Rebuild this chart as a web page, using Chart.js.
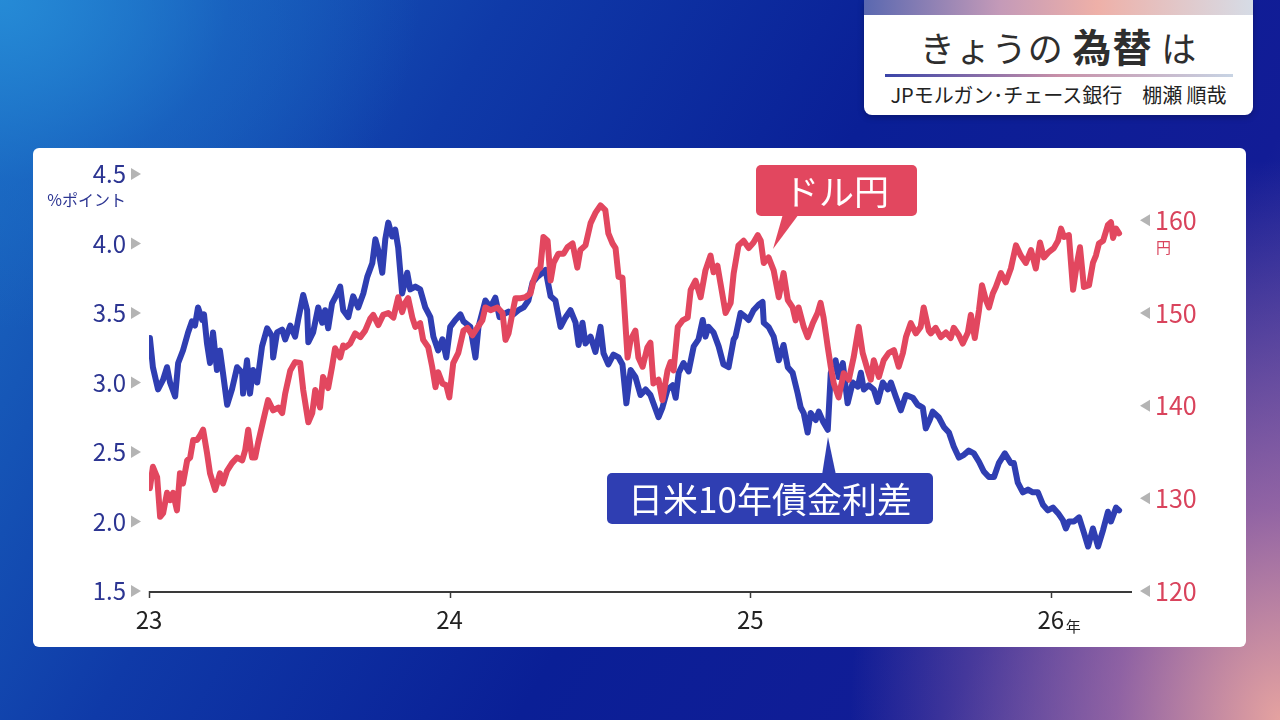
<!DOCTYPE html>
<html lang="ja">
<head>
<meta charset="utf-8">
<script src="https://cdn.jsdelivr.net/npm/chart.js@4.4.1/dist/chart.umd.min.js"></script>
<style>
  html,body{margin:0;padding:0;}
  body{width:1280px;height:720px;overflow:hidden;position:relative;
    font-family:"Noto Sans CJK JP","Noto Sans",sans-serif;
    background:
      radial-gradient(ellipse 430px 560px at 100% 100%, rgba(238,168,160,0.95) 0%, rgba(200,128,168,0.65) 38%, rgba(110,90,170,0) 100%),
      radial-gradient(ellipse 420px 330px at 0% 0%, rgba(38,140,215,0.95) 0%, rgba(28,110,200,0.45) 55%, rgba(20,60,170,0) 100%),
      linear-gradient(120deg, #1c70c4 0%, #0f3aa8 30%, #0a1f96 55%, #121c96 80%, #3a3aa0 100%);
  }
  #panel{position:absolute;left:33px;top:148px;width:1213px;height:499px;background:#fff;border-radius:6px;}
  #title{position:absolute;left:864px;top:0;width:389px;height:115px;background:#fff;border-radius:0 0 8px 8px;overflow:hidden;box-shadow:0 2px 6px rgba(0,0,0,0.25);}
  #title .bar{position:absolute;left:0;top:0;width:100%;height:15px;background:linear-gradient(90deg,#5a68b0 0%,#c49ab8 35%,#eeb0a8 60%,#d6dce6 100%);}
  #title .main{position:absolute;left:0;top:22px;width:100%;text-align:center;color:#2e2e2e;font-size:35px;line-height:46px;letter-spacing:1px;}
  #title .main b{font-size:39px;font-weight:700;}
  #title .rule{position:absolute;left:21px;top:74px;width:348px;height:3px;background:linear-gradient(90deg,#3a44a8 0%,#c890a8 50%,#c8d4e4 100%);}
  #title .sub{position:absolute;left:0;top:81px;width:100%;text-align:center;color:#222;font-size:20px;line-height:28px;}
  canvas{position:absolute;left:0;top:0;}
  .tag{position:absolute;color:#fff;font-size:35px;line-height:50px;text-align:center;border-radius:5px;}
  #tagYen{left:756px;top:165px;width:161px;height:51px;background:#e2475f;}
  #tagSpread{left:607px;top:473px;width:326px;height:51px;background:#2f3eb2;}
</style>
</head>
<body>
<div id="panel"></div>
<div id="title">
  <div class="bar"></div>
  <div class="main">きょうの <b>為替</b> は</div>
  <div class="rule"></div>
  <div class="sub">JPモルガン･チェース銀行　棚瀬 順哉</div>
</div>
<canvas id="c" width="1280" height="720"></canvas>
<svg style="position:absolute;left:0;top:0" width="1280" height="720">
  <polygon points="783,214 799,214 773,249" fill="#e2475f"/>
  <polygon points="822,475 836,475 828,437" fill="#2f3eb2"/>
</svg>
<div class="tag" id="tagYen">ドル円</div>
<div class="tag" id="tagSpread">日米10年債金利差</div>

<script>
// ---- data (x = year, 2-digit decimal) ----
const yearTicks = [23, 24, 25, 26];
const spreadTicks = [1.5, 2.0, 2.5, 3.0, 3.5, 4.0, 4.5];
const yenTicks = [120, 130, 140, 150, 160];

const spreadX = [23.003,23.013,23.030,23.047,23.060,23.070,23.087,23.097,23.113,23.130,23.143,23.153,23.163,23.177,23.183,23.193,23.203,23.213,23.226,23.236,23.246,23.260,23.276,23.293,23.310,23.313,23.326,23.336,23.346,23.360,23.376,23.393,23.410,23.413,23.426,23.443,23.453,23.470,23.486,23.496,23.513,23.526,23.530,23.546,23.563,23.576,23.586,23.596,23.609,23.626,23.636,23.646,23.663,23.679,23.696,23.713,23.726,23.743,23.753,23.763,23.776,23.786,23.796,23.809,23.819,23.829,23.842,23.859,23.869,23.886,23.902,23.919,23.936,23.946,23.962,23.976,23.989,24.002,24.019,24.036,24.046,24.069,24.086,24.096,24.119,24.136,24.152,24.166,24.179,24.196,24.212,24.229,24.246,24.262,24.276,24.292,24.309,24.319,24.336,24.352,24.369,24.386,24.402,24.419,24.429,24.442,24.452,24.469,24.485,24.502,24.512,24.528,24.545,24.562,24.575,24.588,24.602,24.618,24.635,24.652,24.668,24.678,24.695,24.708,24.725,24.742,24.752,24.762,24.778,24.795,24.812,24.828,24.842,24.851,24.861,24.878,24.895,24.911,24.928,24.945,24.951,24.968,24.985,24.995,25.011,25.028,25.041,25.045,25.061,25.078,25.095,25.111,25.125,25.141,25.158,25.168,25.178,25.191,25.201,25.218,25.228,25.242,25.258,25.268,25.284,25.294,25.308,25.324,25.341,25.358,25.368,25.378,25.394,25.411,25.424,25.441,25.458,25.468,25.484,25.501,25.518,25.541,25.557,25.574,25.584,25.597,25.607,25.627,25.644,25.661,25.677,25.694,25.711,25.727,25.744,25.761,25.777,25.794,25.811,25.827,25.847,25.867,25.877,25.890,25.907,25.924,25.940,25.957,25.974,25.990,26.007,26.024,26.040,26.050,26.060,26.077,26.094,26.110,26.124,26.140,26.157,26.174,26.190,26.200,26.217,26.227];
const spreadY = [3.32,3.11,2.95,3.02,3.11,3.00,2.90,3.14,3.23,3.36,3.44,3.41,3.54,3.45,3.49,3.28,3.14,3.36,3.09,3.23,3.07,2.84,2.95,3.11,3.07,2.92,3.16,2.92,3.09,3.00,3.26,3.39,3.33,3.18,3.36,3.38,3.31,3.41,3.33,3.45,3.63,3.52,3.29,3.36,3.54,3.43,3.52,3.39,3.57,3.64,3.69,3.52,3.47,3.62,3.54,3.64,3.76,3.86,4.03,3.95,3.79,4.03,4.15,4.05,4.10,3.97,3.64,3.79,3.67,3.69,3.67,3.54,3.47,3.33,3.23,3.31,3.18,3.40,3.45,3.49,3.44,3.40,3.18,3.40,3.59,3.54,3.61,3.47,3.49,3.51,3.49,3.52,3.54,3.59,3.72,3.76,3.79,3.81,3.62,3.59,3.40,3.47,3.52,3.43,3.27,3.43,3.28,3.33,3.22,3.40,3.21,3.13,3.20,3.18,3.13,2.85,3.09,3.04,2.91,2.95,2.91,2.85,2.75,2.82,2.95,2.98,2.89,3.07,3.14,3.08,3.26,3.31,3.45,3.33,3.40,3.36,3.26,3.13,3.11,3.31,3.33,3.50,3.47,3.45,3.52,3.56,3.58,3.43,3.40,3.33,3.16,3.27,3.11,3.07,2.92,2.82,2.78,2.64,2.78,2.73,2.79,2.72,2.66,3.07,3.16,3.04,3.14,2.85,3.00,2.97,3.07,2.95,2.98,2.95,2.86,3.00,2.95,3.00,2.90,2.80,2.91,2.89,2.84,2.82,2.67,2.73,2.79,2.75,2.68,2.64,2.54,2.46,2.48,2.51,2.49,2.43,2.36,2.32,2.32,2.42,2.49,2.42,2.42,2.28,2.21,2.23,2.21,2.21,2.12,2.08,2.10,2.06,2.01,1.95,2.00,2.00,2.03,1.92,1.82,1.95,1.82,1.94,2.07,2.00,2.10,2.08];

const yenX = [23.003,23.013,23.027,23.037,23.047,23.060,23.070,23.080,23.093,23.103,23.113,23.127,23.137,23.147,23.160,23.170,23.180,23.193,23.203,23.220,23.236,23.246,23.260,23.276,23.293,23.310,23.320,23.330,23.343,23.353,23.363,23.380,23.396,23.413,23.430,23.443,23.453,23.470,23.486,23.503,23.513,23.530,23.543,23.553,23.569,23.579,23.596,23.609,23.619,23.636,23.646,23.653,23.669,23.686,23.703,23.719,23.736,23.746,23.763,23.779,23.796,23.813,23.829,23.842,23.852,23.862,23.876,23.886,23.902,23.912,23.929,23.942,23.953,23.962,23.976,23.989,23.999,24.012,24.029,24.046,24.059,24.076,24.092,24.109,24.119,24.136,24.159,24.176,24.186,24.196,24.209,24.219,24.236,24.252,24.269,24.279,24.292,24.302,24.312,24.326,24.336,24.346,24.362,24.379,24.392,24.409,24.425,24.435,24.452,24.469,24.485,24.502,24.518,24.528,24.542,24.552,24.562,24.575,24.592,24.602,24.618,24.628,24.642,24.658,24.668,24.678,24.695,24.708,24.725,24.735,24.745,24.759,24.775,24.792,24.802,24.818,24.835,24.851,24.868,24.878,24.891,24.901,24.918,24.935,24.945,24.961,24.978,24.995,25.011,25.025,25.035,25.045,25.061,25.078,25.095,25.111,25.125,25.141,25.151,25.161,25.178,25.191,25.208,25.224,25.234,25.244,25.258,25.268,25.278,25.294,25.311,25.328,25.344,25.361,25.374,25.391,25.401,25.411,25.428,25.444,25.461,25.478,25.494,25.508,25.518,25.534,25.551,25.567,25.577,25.594,25.601,25.617,25.634,25.651,25.667,25.677,25.694,25.707,25.724,25.734,25.747,25.761,25.771,25.784,25.794,25.807,25.817,25.834,25.850,25.867,25.884,25.900,25.917,25.934,25.950,25.964,25.977,25.994,26.010,26.024,26.034,26.044,26.060,26.074,26.087,26.097,26.110,26.127,26.140,26.150,26.160,26.174,26.190,26.200,26.207,26.217,26.227];
const yenY = [131.1,133.4,132.3,128.0,128.4,130.6,129.8,130.6,128.7,132.7,131.6,134.1,134.4,136.3,136.3,136.8,137.4,134.9,132.7,130.9,132.7,131.6,133.0,133.8,134.4,134.1,135.2,137.4,134.4,134.4,136.0,138.4,140.6,139.5,139.8,139.2,141.3,143.8,144.7,144.6,141.7,138.2,139.2,141.7,139.8,143.1,141.9,144.2,146.2,145.2,146.5,146.3,146.7,147.8,147.4,148.1,149.4,149.8,148.7,149.8,150.0,149.5,151.7,150.1,151.1,151.6,149.5,148.5,148.9,147.1,146.3,144.2,142.0,143.6,142.4,142.2,140.9,144.6,145.7,148.1,148.4,147.6,148.4,149.2,150.6,150.3,150.6,150.0,147.1,147.8,150.0,151.6,151.6,151.7,152.1,153.5,154.6,154.9,158.2,157.8,153.5,155.4,156.4,156.4,157.1,157.5,154.9,156.8,157.3,159.7,160.8,161.6,161.1,158.6,157.5,157.0,153.9,153.8,145.2,147.1,148.1,145.2,144.2,146.3,146.8,142.4,142.8,140.6,143.8,144.7,143.8,148.5,149.2,149.5,152.5,153.5,151.7,154.6,156.2,154.4,155.1,153.2,150.0,151.1,154.3,157.3,157.8,157.0,157.6,158.4,157.8,155.4,156.0,154.6,151.7,154.3,151.4,150.6,149.2,150.6,148.5,147.4,148.9,150.0,151.1,149.5,146.3,144.2,142.4,140.9,143.5,142.8,145.2,148.5,145.7,143.8,142.8,144.9,143.1,144.9,145.7,146.0,144.2,145.7,147.4,148.9,147.8,148.5,150.6,148.1,147.8,148.4,147.4,147.9,147.3,148.4,147.6,146.7,147.9,149.8,147.3,150.3,153.0,151.4,150.6,152.1,152.8,154.3,153.3,154.8,157.3,156.2,155.4,156.8,154.8,157.6,156.0,156.6,157.0,157.8,159.1,158.2,158.4,152.5,155.4,157.1,152.8,153.0,155.4,156.2,157.5,157.8,159.5,159.8,158.1,159.1,158.6];

const BLUE = '#2f3eb2', RED = '#e2475f';
const BLUE_TXT = '#2c3592', RED_TXT = '#d9435c';
const FONT = "'Noto Sans CJK JP','Noto Sans',sans-serif";

const toPts = (xs, ys) => xs.map((x, i) => ({x, y: ys[i]}));

const deco = {
  id: 'deco',
  afterDraw(chart) {
    const {ctx, scales} = chart;
    const x = scales.x, yl = scales.yL, yr = scales.yR;
    const area = chart.chartArea;
    ctx.save();
    // axis line
    ctx.strokeStyle = '#3a3a3a';
    ctx.lineWidth = 2;
    ctx.beginPath();
    ctx.moveTo(area.left, area.bottom + 1);
    ctx.lineTo(area.right, area.bottom + 1);
    ctx.stroke();
    // year ticks
    ctx.lineWidth = 1.5;
    yearTicks.forEach(v => {
      const px = Math.round(x.getPixelForValue(v)) + 0.5;
      ctx.beginPath();
      ctx.moveTo(px, area.bottom);
      ctx.lineTo(px, area.bottom + 7);
      ctx.stroke();
    });
    // triangles
    ctx.fillStyle = '#b4b4b4';
    spreadTicks.forEach(v => {
      const py = yl.getPixelForValue(v);
      ctx.beginPath();
      ctx.moveTo(131, py - 6);
      ctx.lineTo(141, py);
      ctx.lineTo(131, py + 6);
      ctx.closePath();
      ctx.fill();
    });
    yenTicks.forEach(v => {
      const py = yr.getPixelForValue(v);
      ctx.beginPath();
      ctx.moveTo(1150, py - 6);
      ctx.lineTo(1140, py);
      ctx.lineTo(1150, py + 6);
      ctx.closePath();
      ctx.fill();
    });
    // unit labels
    ctx.font = `16px ${FONT}`;
    ctx.textBaseline = 'middle';
    ctx.fillStyle = BLUE_TXT;
    ctx.textAlign = 'right';
    ctx.fillText('%ポイント', 126, yl.getPixelForValue(4.5) + 26);
    ctx.fillStyle = RED_TXT;
    ctx.textAlign = 'left';
    ctx.font = `15px ${FONT}`;
    ctx.fillText('円', 1156, yr.getPixelForValue(160) + 27);
    ctx.fillStyle = '#222';
    ctx.fillText('年', x.getPixelForValue(26) + 15, area.bottom + 35);
    ctx.restore();
  }
};

new Chart(document.getElementById('c'), {
  type: 'line',
  data: {
    datasets: [
      {label: 'ドル円', data: toPts(yenX, yenY), yAxisID: 'yR', borderColor: RED,
       borderWidth: 6, pointRadius: 0, tension: 0, borderJoinStyle: 'round', borderCapStyle: 'round'},
      {label: '日米10年債金利差', data: toPts(spreadX, spreadY), yAxisID: 'yL', borderColor: BLUE,
       borderWidth: 6, pointRadius: 0, tension: 0, borderJoinStyle: 'round', borderCapStyle: 'round'}
    ]
  },
  options: {
    responsive: false,
    animation: false,
    devicePixelRatio: 1,
    layout: {padding: {top: 174, left: 0, right: 0, bottom: 0}},
    plugins: {legend: {display: false}, tooltip: {enabled: false}},
    scales: {
      x: {
        type: 'linear', min: 23, max: 26.27,
        grid: {display: false, drawTicks: false}, border: {display: false},
        afterFit(s) { s.height = 129; },
        afterBuildTicks(s) { s.ticks = yearTicks.map(v => ({value: v})); },
        ticks: {padding: 14, color: '#222', font: {family: FONT, size: 24}, maxRotation: 0,
                callback: v => String(v)}
      },
      yL: {
        position: 'left', min: 1.5, max: 4.5,
        grid: {display: false, drawTicks: false}, border: {display: false},
        afterFit(s) { s.width = 149; },
        afterBuildTicks(s) { s.ticks = spreadTicks.map(v => ({value: v})); },
        ticks: {padding: 23, color: BLUE_TXT, font: {family: FONT, size: 24},
                callback: v => Number(v).toFixed(1)}
      },
      yR: {
        position: 'right', min: 120, max: 165,
        grid: {display: false, drawTicks: false}, border: {display: false},
        afterFit(s) { s.width = 148; },
        afterBuildTicks(s) { s.ticks = yenTicks.map(v => ({value: v})); },
        ticks: {padding: 23, color: RED_TXT, font: {family: FONT, size: 25},
                callback: v => String(v)}
      }
    }
  },
  plugins: [deco]
});
</script>
</body>
</html>
